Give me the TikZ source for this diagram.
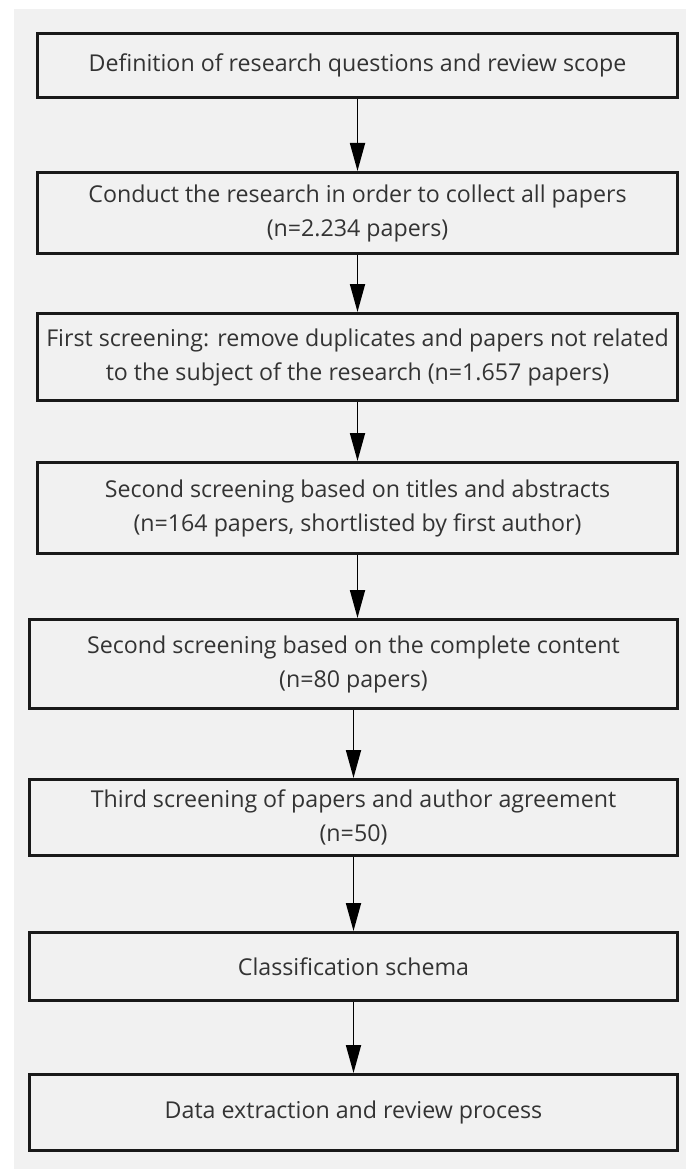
\documentclass[tikz,border=0pt]{standalone}
\usepackage{fontspec}
\setmainfont{Open Sans}
\usetikzlibrary{arrows.meta}
\definecolor{pagegray}{HTML}{F1F1F1}
\definecolor{inkgray}{HTML}{333333}
\tikzset{
  stagebox/.style={draw=black!90, line width=3pt, fill=pagegray, text=inkgray,
    align=center, inner sep=0pt, font=\fontsize{23.2}{34}\selectfont},
  wide/.style={stagebox, minimum width=640pt},
  wider/.style={stagebox, minimum width=648pt},
  flow/.style={draw=black, line width=1.8pt, -{Triangle[width=15pt,length=28pt]}}
}
\begin{document}
\begin{tikzpicture}[x=1pt,y=-1pt]
  %%%%% background %%%%%
  \fill[white] (0,0) rectangle (686,1169);
  \useasboundingbox (0,0) rectangle (686,1169);
  \fill[pagegray] (14,9) rectangle (686,1169);

  %%%%% stages %%%%%
  \node[wide, minimum height=64pt] (scope) at (357.5,65.5)
    {Definition of research questions and review scope};
  \node[wide, minimum height=81pt] (collect) at (357.5,213)
    {Conduct the research in order to collect all papers\\(n=2.234 papers)};
  \node[wide, minimum height=87pt] (first) at (357.5,357)
    {First screening: remove duplicates and papers not related\\to the subject of the research (n=1.657 papers)};
  \node[wide, minimum height=91pt] (titles) at (357.5,508)
    {Second screening based on titles and abstracts\\(n=164 papers, shortlisted by first author)};
  \node[wider, minimum height=89pt] (content) at (353.5,664)
    {Second screening based on the complete content\\(n=80 papers)};
  \node[wider, minimum height=76pt] (third) at (353.5,817.5)
    {Third screening of papers and author agreement\\(n=50)};
  \node[wider, minimum height=68pt] (schema) at (353.5,966.5)
    {Classification schema};
  \node[wider, minimum height=76pt] (extract) at (353.5,1112.5)
    {Data extraction and review process};

  %%%%% arrows %%%%%
  \draw[flow] (scope) -- (collect);
  \draw[flow] (collect) -- (first);
  \draw[flow] (first) -- (titles);
  \draw[flow] (titles.south) -- (titles.south |- content.north);
  \draw[flow] (content) -- (third);
  \draw[flow] (third) -- (schema);
  \draw[flow] (schema) -- (extract);
\end{tikzpicture}
\end{document}
